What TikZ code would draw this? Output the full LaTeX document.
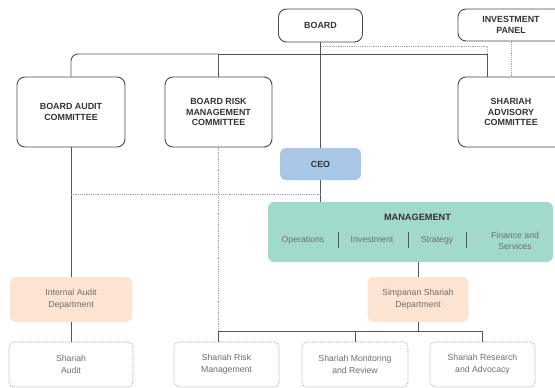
\documentclass[tikz,border=0pt]{standalone}
\usepackage{fontspec}
\setmainfont{Liberation Sans}
\definecolor{linegray}{HTML}{555555}
\definecolor{boxline}{HTML}{4A4A4A}
\definecolor{ceoblue}{HTML}{A9C6E6}
\definecolor{mgmtteal}{HTML}{A2D9CD}
\definecolor{peach}{HTML}{FDE3D2}
\definecolor{dotgray}{HTML}{A0A0A0}
\definecolor{headtext}{HTML}{333333}
\definecolor{subtext}{HTML}{6E6E6E}
\begin{document}
\begin{tikzpicture}[x=1pt,y=-1pt,
  headbox/.style={draw=boxline, line width=0.9pt, rounded corners=8pt,
    align=center, inner sep=0pt, text=headtext,
    font=\fontsize{8.9}{10.7}\selectfont\bfseries},
  fillbox/.style={rounded corners=6pt, align=center, inner sep=0pt},
  subfont/.style={text=subtext, font=\fontsize{8.7}{11.6}\selectfont},
  dotbox/.style={draw=dotgray, line width=0.6pt, dash pattern=on 1pt off 1pt,
    rounded corners=5pt, align=center, inner sep=0pt, subfont,
    minimum height=45pt},
  conn/.style={draw=linegray, line width=0.9pt},
  dotline/.style={draw=dotgray, line width=0.7pt, dash pattern=on 1.2pt off 1pt},
  sepline/.style={draw=linegray, line width=0.8pt}
]
\clip (0,0) rectangle (555,388);

% governing bodies
\node[headbox, minimum width=84pt, minimum height=33pt] (board) at (320.5,25.5) {BOARD};
\node[headbox, minimum width=106pt, minimum height=32pt] (invest) at (511,25) {INVESTMENT\\PANEL};
\node[headbox, minimum width=108pt, minimum height=70pt] (bac) at (71,112) {BOARD AUDIT\\COMMITTEE};
\node[headbox, minimum width=107pt, minimum height=70pt] (brmc) at (218.5,112) {BOARD RISK\\MANAGEMENT\\COMMITTEE};
\node[headbox, minimum width=106pt, minimum height=70pt] (sac) at (511,112) {SHARIAH\\ADVISORY\\COMMITTEE};

% executive level
\node[fillbox, fill=ceoblue, minimum width=81pt, minimum height=32pt, text=headtext,
  font=\fontsize{8.9}{10}\selectfont\bfseries] (ceo) at (320.5,164) {CEO};
\node[fillbox, fill=mgmtteal, minimum width=285pt, minimum height=60pt] (mgmt) at (410.5,232) {};
\node[text=headtext, font=\fontsize{9.2}{10}\selectfont\bfseries] (mgmtt) at (417.5,217) {MANAGEMENT};
\node[subfont] (ops) at (303,240) {Operations};
\node[subfont] (inv) at (372,240) {Investment};
\node[subfont] (strat) at (437,240) {Strategy};
\node[subfont, align=center] (fin) at (515,241) {Finance and\\Services};
\draw[sepline] (338,232) -- (338,248);
\draw[sepline] (408,232) -- (408,248);
\draw[sepline] (466,232) -- (466,248);

% departments
\node[fillbox, fill=peach, minimum width=122pt, minimum height=45pt, subfont] (iad) at (71,299.5) {Internal Audit\\Department};
\node[fillbox, fill=peach, minimum width=101pt, minimum height=45pt, subfont] (ssd) at (418,299.5) {Simpanan Shariah\\Department};

% units
\node[dotbox, minimum width=124pt] (sa) at (71,364.5) {Shariah\\Audit};
\node[dotbox, minimum width=105pt] (srm) at (226.5,364.5) {Shariah Risk\\Management};
\node[dotbox, minimum width=106pt] (smr) at (355,364.5) {Shariah Monitoring\\and Review};
\node[dotbox, minimum width=105pt] (sra) at (482.5,364.5) {Shariah Research\\and Advocacy};

% junction points
\coordinate (busL) at (71,54);
\coordinate (busR) at (487,54);
\coordinate (dotR) at (487,46);
\coordinate (auditdot) at (71,194);
\coordinate (subbus) at (418,331);

% board committees bus
\draw[conn, rounded corners=7pt] (bac.north) |- (brmc.north |- busL);
\draw[conn] (brmc.north |- busL) -- (busR) -- (busR |- sac.north);
\draw[conn] (brmc.north |- busL) -- (brmc.north);
\draw[dotline] (dotR -| board.south) -- (dotR) -- (busR);
\draw[dotline] (invest.south) -- (invest.south |- sac.north);

% reporting lines
\draw[conn] (board.south) -- (ceo.north);
\draw[conn] (ceo.south) -- (ceo.south |- mgmt.north);
\draw[conn] (bac.south) -- (iad.north);
\draw[dotline] (auditdot) -- (auditdot -| ceo.south);
\draw[dotline] (brmc.south) -- (brmc.south |- subbus);
\draw[conn] (ssd.north |- mgmt.south) -- (ssd.north);
\draw[conn] (iad.south) -- (sa.north);

% shariah department bus
\draw[conn] (ssd.south) -- (subbus);
\draw[conn] (subbus -| brmc.south) -- (subbus -| sra.north);
\draw[conn] (subbus -| brmc.south) -- (srm.north -| brmc.south);
\draw[conn] (subbus -| smr.north) -- (smr.north);
\draw[conn] (subbus -| sra.north) -- (sra.north);
\end{tikzpicture}
\end{document}
